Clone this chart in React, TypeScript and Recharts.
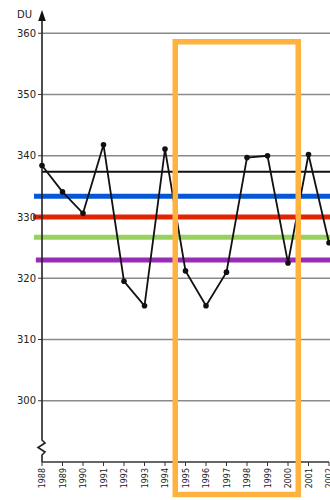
import { LineChart, Line, XAxis, YAxis, ReferenceLine, ReferenceArea } from "recharts"

document.body.style.margin = "0"

const years = [1988, 1989, 1990, 1991, 1992, 1993, 1994, 1995, 1996, 1997, 1998, 1999, 2000, 2001, 2002]
const ozone = [338.4, 334.1, 330.6, 341.8, 319.5, 315.5, 341.1, 321.2, 315.5, 321.0, 339.7, 340.0, 322.5, 340.2, 325.8]
const yTicks = [300, 310, 320, 330, 340, 350, 360]

// horizontal reference levels (DU)
const levels = [337.4, 333.4, 330, 326.7, 323]
const LEVEL_COLORS = ["#111111", "#0656d6", "#e32400", "#97d35c", "#9a2bb8"]
const LEVEL_WIDTHS = [2, 5, 5, 5, 5]
const LEVEL_LEFT = [0, 0.39, 0.44, 0.39, 0.3]

// highlighted period
const highlightYears = [1994.5, 2000.5]
const highlightTop = 358.6
const highlightBottom = 284.7

const data = years.map((year, i) => ({ year, du: ozone[i] }))

const FONT = "DejaVu Sans, sans-serif"

function YearTick(props: any) {
  const { x, y, payload } = props
  return (
    <text
      x={x}
      y={y}
      dy={3}
      transform={`rotate(-90 ${x} ${y})`}
      textAnchor="end"
      fontSize={8}
      fontFamily={FONT}
      fill="#222"
    >
      {payload.value}
    </text>
  )
}

// y axis drawn by hand: zigzag break near the bottom and an arrow on top
function AxisShape(props: any) {
  const { x1, y1, y2 } = props
  const bottom = Math.max(y1, y2)
  const top = Math.min(y1, y2)
  const b = bottom - 22
  const d = `M${x1},${bottom} L${x1},${b + 15} L${x1 + 3},${b + 12} L${x1 - 4},${b + 7.5} L${x1 + 3},${b + 3} L${x1},${b} L${x1},${top + 8}`
  return (
    <g>
      <path d={d} fill="none" stroke="#222" strokeWidth={1.6} />
      <path d={`M${x1},${top} L${x1 + 3.8},${top + 11} L${x1 - 3.8},${top + 11} Z`} fill="#111" />
      <text x={x1 - 10} y={top + 8} textAnchor="end" fontSize={10} fontFamily={FONT} fill="#222">
        DU
      </text>
    </g>
  )
}

export default function App() {
  return (
    <LineChart width={330} height={500} data={data} margin={{ top: 10, right: 1, bottom: 0, left: 0 }}>
      <XAxis
        type="number"
        dataKey="year"
        domain={[1988, 2002]}
        ticks={years}
        interval={0}
        height={38}
        tickSize={4}
        tickMargin={2}
        axisLine={{ stroke: "#333", strokeWidth: 1.5 }}
        tickLine={{ stroke: "#333" }}
        tick={<YearTick />}
      />
      <YAxis
        type="number"
        domain={[290, 363.8]}
        ticks={yTicks}
        interval={0}
        width={42}
        tickSize={4}
        tickMargin={2}
        axisLine={false}
        tickLine={{ stroke: "#333" }}
        tick={{ fontSize: 10, fill: "#222", fontFamily: FONT }}
      />
      {yTicks.map((t) => (
        <ReferenceLine
          key={`grid-${t}`}
          segment={[
            { x: 1988, y: t },
            { x: 2002.1, y: t },
          ]}
          ifOverflow="visible"
          stroke="#8a8a8a"
          strokeWidth={1.3}
        />
      ))}
      {levels.map((v, i) => (
        <ReferenceLine
          key={`lvl-${i}`}
          segment={[
            { x: 1988 - LEVEL_LEFT[i], y: v },
            { x: 2002.1, y: v },
          ]}
          ifOverflow="visible"
          stroke={LEVEL_COLORS[i]}
          strokeWidth={LEVEL_WIDTHS[i]}
        />
      ))}
      <Line
        type="linear"
        dataKey="du"
        stroke="#111"
        strokeWidth={1.8}
        dot={{ r: 2.8, fill: "#111", stroke: "#111", strokeWidth: 0 }}
        isAnimationActive={false}
      />
      <ReferenceArea
        x1={highlightYears[0]}
        x2={highlightYears[1]}
        y1={highlightBottom}
        y2={highlightTop}
        ifOverflow="visible"
        fill="none"
        fillOpacity={0}
        stroke="#ffb23e"
        strokeWidth={5.5}
        strokeOpacity={1}
        zIndex={1000}
      />
      <ReferenceLine
        segment={[
          { x: 1988, y: 290 },
          { x: 1988, y: 363.8 },
        ]}
        ifOverflow="visible"
        shape={<AxisShape />}
      />
    </LineChart>
  )
}
